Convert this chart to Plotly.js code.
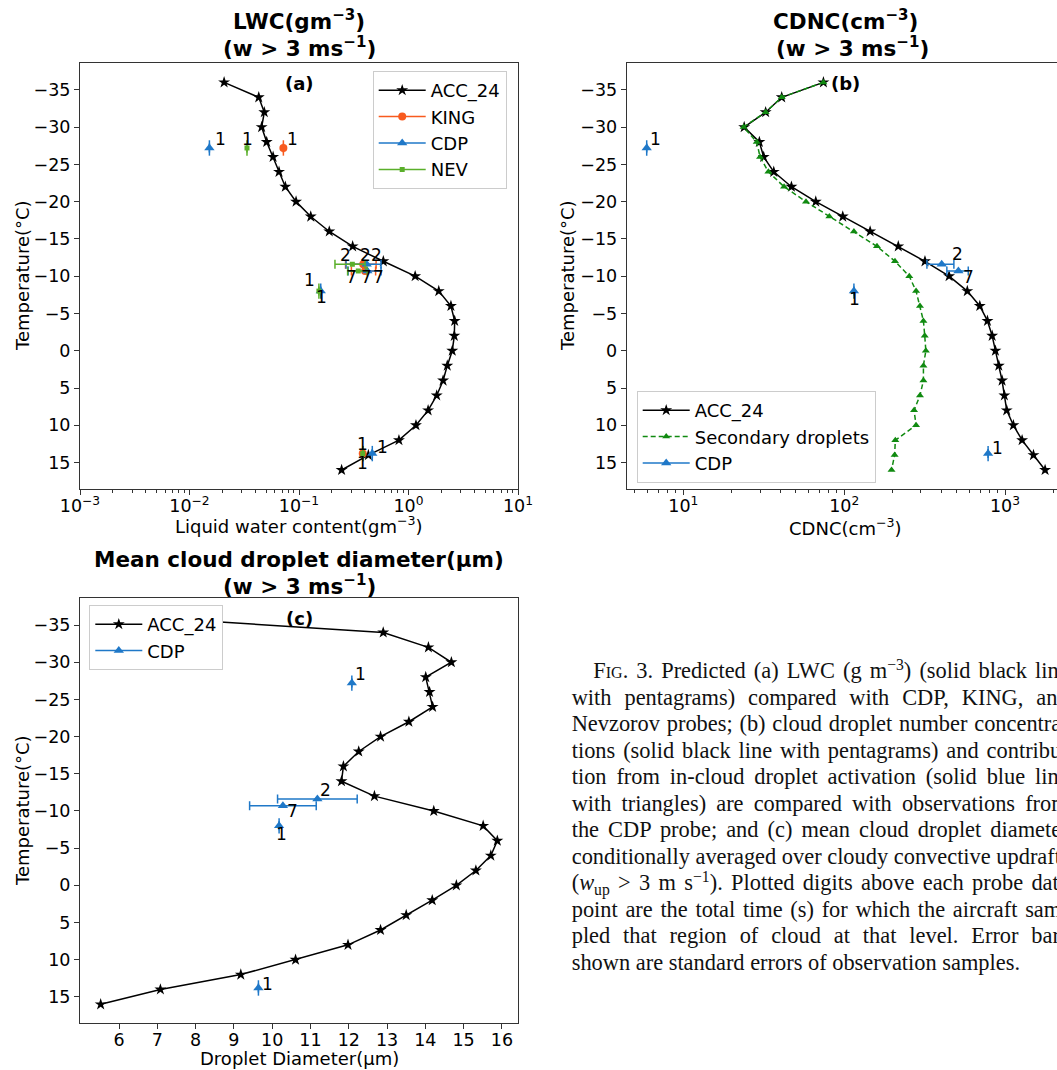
<!DOCTYPE html>
<html><head><meta charset="utf-8">
<script src="https://cdn.plot.ly/plotly-3.0.1.min.js"></script>
<style>
html,body{margin:0;padding:0;overflow:hidden;background:#fff;width:1057px;height:1070px;}
#chart{position:absolute;left:0;top:0;width:1075px;height:1070px;}
.cap{position:absolute;left:571.7px;width:497px;font-family:"Liberation Serif","Times New Roman",serif;font-size:22.4px;line-height:26.5px;text-align:justify;text-align-last:justify;white-space:nowrap;color:#111;}
.cap.last{text-align:left;text-align-last:left;}
.cap.first{text-indent:21.6px;}
.cap sup,.cap sub{line-height:0;font-size:70%;}
.sc{font-variant:small-caps;}
</style></head>
<body>
<div id="chart"></div>
<div id="caption"></div>
<script>
// ---------------- data ----------------
const temps = [-36,-34,-32,-30,-28,-26,-24,-22,-20,-18,-16,-14,-12,-10,-8,-6,-4,-2,0,2,4,6,8,10,12,14,16];
const lwcModel = [0.0207,0.0429,0.0482,0.0456,0.0507,0.058,0.0657,0.075,0.094,0.128,0.189,0.309,0.589,1.15,1.89,2.44,2.64,2.62,2.51,2.26,2.07,1.81,1.51,1.17,0.818,0.430,0.245];
const cdncModel = [74.3,40.9,32.5,23.9,29.7,31.6,36.5,47.0,66.6,98.0,145,217,318,449,583,697,778,832,872,915,959,991,1025,1127,1277,1503,1775];
const cdncSecondary = [74.3,40.9,32.5,23.7,28.6,30.0,33.8,42.3,57.9,80.9,115,160,207,254,280,296,311,317,322,311,311,296,272,280,208,206,197];
const diamModel = [6.9,12.90,14.08,14.68,14.01,14.11,14.19,13.57,12.83,12.26,11.86,11.81,12.67,14.22,15.51,15.88,15.71,15.32,14.81,14.18,13.50,12.83,11.98,10.61,9.18,7.08,5.52];

// observations (temperature, value, standard error, sampling time in s)
const cdpTemp  = [-27.2,-11.6,-10.7,-8.0,13.8];
const cdpTime  = [1,2,7,1,1];
const cdpLwc   = [0.0152,0.415,0.421,0.158,0.467];
const cdpLwcErr= [0,0.146,0.14,0,0];
const cdpCdnc  = [5.92,404,513,115,785];
const cdpCdncErr=[0,77,78,0,0];
const cdpDiam  = [12.08,11.18,10.28,10.18,9.64];
const cdpDiamErr=[0,1.04,0.87,0,0];

const kingTemp = [-27.2,-11.6,-10.7,13.8];
const kingTime = [1,2,7,1];
const kingLwc  = [0.072,0.386,0.401,0.382];
const kingLwcErr=[0,0.12,0.10,0];

const nevTemp  = [-27.2,-11.6,-10.7,-8.0,13.8];
const nevTime  = [1,2,7,1,1];
const nevLwc   = [0.0335,0.307,0.348,0.152,0.382];
const nevLwcErr= [0,0.094,0.07,0,0];

const tempTicks = [-35,-30,-25,-20,-15,-10,-5,0,5,10,15];
const lwcTicks = [0.001,0.01,0.1,1,10];
const lwcTickText = ['10<sup>−3</sup>','10<sup>−2</sup>','10<sup>−1</sup>','10<sup>0</sup>','10<sup>1</sup>'];
const cdncTicks = [10,100,1000];
const cdncTickText = ['10<sup>1</sup>','10<sup>2</sup>','10<sup>3</sup>'];
const diamTicks = [6,7,8,9,10,11,12,13,14,15,16];

// ---------------- styles ----------------
const W = 1075, H = 1070;
const FONT = 'DejaVu Sans';
const cCDP = '#1f78c8', cKING = '#f85a1e', cNEV = '#5aaf2a', cSEC = '#108a10';
const px = v => v / W, py = v => 1 - v / H;

// label offsets (screen px) for sample-time digits
const offA_cdp  = [[11,-9],[10,-9],[11,6.5],[1,6],[10,-7]];
const offA_king = [[9,-9],[2.5,-9],[1.7,6.5],[0,-10]];
const offA_nev  = [[1,-9],[-6.6,-9],[-6.6,6.5],[-9,-11],[0,9]];
const offB_cdp  = [[9,-9],[16,-10],[10,6],[1,8],[9,-6]];
const offC_cdp  = [[9,-9],[8,-9],[10,5],[2,8],[9,-4]];

function modelTrace(x, xa, ya, leg, show){
  return {x:x, y:temps, xaxis:xa, yaxis:ya, type:'scatter', mode:'lines+markers', name:'ACC_24',
    line:{color:'#000', width:1.5}, marker:{symbol:'star', size:9, color:'#000'},
    legend:leg, showlegend:show, legendgroup:leg+'m', hoverinfo:'skip'};
}
// zero-length error bars in the source only show their caps (a short vertical tick)
function capTrace(x, err, t, xa, ya, color){
  const keep = err.map(e => e === 0);
  return {x:x.filter((v,i)=>keep[i]), y:t.filter((v,i)=>keep[i]), xaxis:xa, yaxis:ya, type:'scatter', mode:'markers', showlegend:false,
    marker:{symbol:'line-ns-open', size:11, color:color, line:{color:color, width:1.5}}, hoverinfo:'skip'};
}
function obsTrace(x, err, t, xa, ya, color, symbol, size){
  return {x:x, y:t, xaxis:xa, yaxis:ya, type:'scatter', mode:'markers', showlegend:false,
    marker:{symbol:symbol, size:size, color:color},
    error_x:{type:'data', array:err, visible:true, color:color, thickness:1.5, width:4.5},
    hoverinfo:'skip'};
}
function legendEntry(name, color, symbol, size, leg){
  return {x:[null], y:[null], type:'scatter', mode:'lines+markers', name:name,
    line:{color:color, width:1.5}, marker:{symbol:symbol, size:size, color:color},
    legend:leg, legendgroup:leg+name, xaxis:'x', yaxis:'y', hoverinfo:'skip'};
}

const data = [
  modelTrace(lwcModel,'x','y','legend',true),
  capTrace(kingLwc, kingLwcErr, kingTemp,'x','y',cKING),
  obsTrace(kingLwc, kingLwcErr, kingTemp,'x','y',cKING,'circle',8),
  capTrace(cdpLwc, cdpLwcErr, cdpTemp,'x','y',cCDP),
  obsTrace(cdpLwc, cdpLwcErr, cdpTemp,'x','y',cCDP,'triangle-up',9),
  capTrace(nevLwc, nevLwcErr, nevTemp,'x','y',cNEV),
  obsTrace(nevLwc, nevLwcErr, nevTemp,'x','y',cNEV,'square',5),
  legendEntry('KING',cKING,'circle',8,'legend'),
  legendEntry('CDP',cCDP,'triangle-up',9,'legend'),
  legendEntry('NEV',cNEV,'square',5,'legend'),

  modelTrace(cdncModel,'x2','y2','legend2',true),
  {x:cdncSecondary, y:temps, xaxis:'x2', yaxis:'y2', type:'scatter', mode:'lines+markers', name:'Secondary droplets',
   line:{color:cSEC, width:1.5, dash:'5px,3px'}, marker:{symbol:'triangle-up', size:7, color:cSEC},
   legend:'legend2', legendgroup:'l2s', hoverinfo:'skip'},
  capTrace(cdpCdnc, cdpCdncErr, cdpTemp,'x2','y2',cCDP),
  obsTrace(cdpCdnc, cdpCdncErr, cdpTemp,'x2','y2',cCDP,'triangle-up',9),
  legendEntry('CDP',cCDP,'triangle-up',9,'legend2'),

  modelTrace(diamModel,'x3','y3','legend3',true),
  capTrace(cdpDiam, cdpDiamErr, cdpTemp,'x3','y3',cCDP),
  obsTrace(cdpDiam, cdpDiamErr, cdpTemp,'x3','y3',cCDP,'triangle-up',9),
  legendEntry('CDP',cCDP,'triangle-up',9,'legend3'),
];

// ---------------- annotations ----------------
const ann = [];
function digits(vals, t, n, offs, xa, ya, isLog){
  for (let i = 0; i < vals.length; i++){
    ann.push({xref:xa, yref:ya, x: isLog ? Math.log10(vals[i]) : vals[i], y:t[i], text:String(n[i]),
      showarrow:false, xshift:offs[i][0], yshift:-offs[i][1], font:{family:FONT, size:17, color:'#000'}});
  }
}
digits(cdpLwc, cdpTemp, cdpTime, offA_cdp, 'x','y',true);
digits(kingLwc, kingTemp, kingTime, offA_king, 'x','y',true);
digits(nevLwc, nevTemp, nevTime, offA_nev, 'x','y',true);
digits(cdpCdnc, cdpTemp, cdpTime, offB_cdp, 'x2','y2',true);
digits(cdpDiam, cdpTemp, cdpTime, offC_cdp, 'x3','y3',false);

[['x domain','y','(a)'],['x2 domain','y2','(b)'],['x3 domain','y3','(c)']].forEach(a=>{
  ann.push({xref:a[0], yref:a[1], x:0.5, y:-35.85, text:'<b>'+a[2]+'</b>', showarrow:false, font:{family:FONT,size:18,color:'#000'}});
});
const tfont = {family:FONT, size:21.5, color:'#000'};
function title(x, y, text){ ann.push({xref:'paper', yref:'paper', x:px(x), y:py(y), text:text, showarrow:false, font:tfont, xanchor:'center', yanchor:'middle'}); }
title(299, 20, '<b>LWC(gm<sup>−3</sup>)</b>');
title(299, 47, '<b>(w &gt; 3 ms<sup>−1</sup>)</b>');
title(845, 20, '<b>CDNC(cm<sup>−3</sup>)</b>');
title(852, 47, '<b>(w &gt; 3 ms<sup>−1</sup>)</b>');
title(299, 559, '<b>Mean cloud droplet diameter(μm)</b>');
title(299, 585, '<b>(w &gt; 3 ms<sup>−1</sup>)</b>');

const lfont = {family:FONT, size:18, color:'#000'};
function atitle(x, y, text, rot){ ann.push({xref:'paper', yref:'paper', x:px(x), y:py(y), text:text, showarrow:false, font:lfont, textangle:rot||0, xanchor:'center', yanchor:'middle'}); }
atitle(299, 525, 'Liquid water content(gm<sup>−3</sup>)');
atitle(845.8, 527, 'CDNC(cm<sup>−3</sup>)');
atitle(299, 1058, 'Droplet Diameter(μm)');
atitle(22, 276, 'Temperature(°C)', -90);
atitle(567, 276, 'Temperature(°C)', -90);
atitle(22, 811, 'Temperature(°C)', -90);

// ---------------- axes ----------------
const tickfont = {family:FONT, size:17.5, color:'#000'};
function axBase(){ return {showline:true, mirror:true, linecolor:'#333', linewidth:1, ticks:'outside', ticklen:5, tickwidth:1, tickcolor:'#333',
  showgrid:false, zeroline:false, tickfont:tickfont, fixedrange:true}; }
function yax(dom, anchor){ return Object.assign(axBase(), {domain:dom, anchor:anchor, range:[18.55,-38.6], tickmode:'array', tickvals:tempTicks}); }
const minorLog = {dtick:'D1', ticks:'outside', ticklen:3, tickcolor:'#333', showgrid:false};
const legBase = {xanchor:'left', yanchor:'top', bgcolor:'rgba(255,255,255,0.95)', bordercolor:'#ccc', borderwidth:1, font:lfont, traceorder:'grouped', tracegroupgap:0, itemwidth:47};

const layout = {
  width:W, height:H, margin:{l:0,r:0,t:0,b:0}, paper_bgcolor:'#fff', plot_bgcolor:'#fff',
  font:{family:FONT, size:17, color:'#000'}, showlegend:true,
  xaxis: Object.assign(axBase(), {domain:[px(80),px(518)], anchor:'y', type:'log', range:[-3,1], tickmode:'array', tickvals:lwcTicks, ticktext:lwcTickText,
    ticklabelstandoff:-4, minor:minorLog}),
  yaxis: yax([py(489),py(63)],'x'),
  xaxis2: Object.assign(axBase(), {domain:[px(626.7),px(1065)], anchor:'y2', type:'log', range:[0.648,3.373], tickmode:'array', tickvals:cdncTicks, ticktext:cdncTickText,
    ticklabelstandoff:-4, minor:minorLog}),
  yaxis2: yax([py(489),py(63)],'x2'),
  xaxis3: Object.assign(axBase(), {domain:[px(80),px(518)], anchor:'y3', range:[4.98,16.42], tickmode:'array', tickvals:diamTicks, ticklabelstandoff:-4}),
  yaxis3: yax([py(1023.3),py(598.3)],'x3'),
  legend:  Object.assign({}, legBase, {x:px(372.7), y:py(71)}),
  legend2: Object.assign({}, legBase, {x:px(636.7), y:py(391)}),
  legend3: Object.assign({}, legBase, {x:px(89.3), y:py(605), bgcolor:'#fff'}),
  annotations: ann
};

Plotly.newPlot('chart', data, layout, {displayModeBar:false, responsive:false, staticPlot:true});

// ---------------- caption ----------------
const captionLines = [
  '<span class="sc">Fig</span>. 3. Predicted (a) LWC (g m<sup>−3</sup>) (solid black line',
  'with pentagrams) compared with CDP, KING, and',
  'Nevzorov probes; (b) cloud droplet number concentra-',
  'tions (solid black line with pentagrams) and contribu-',
  'tion from in-cloud droplet activation (solid blue line',
  'with triangles) are compared with observations from',
  'the CDP probe; and (c) mean cloud droplet diameter',
  'conditionally averaged over cloudy convective updrafts',
  '(<i>w</i><sub>up</sub> &gt; 3 m s<sup>−1</sup>). Plotted digits above each probe data',
  'point are the total time (s) for which the aircraft sam-',
  'pled that region of cloud at that level. Error bars',
  'shown are standard errors of observation samples.'
];
const cap = document.getElementById('caption');
captionLines.forEach((t,i)=>{
  const d = document.createElement('div');
  d.className = 'cap' + (i===0?' first':'') + (i===captionLines.length-1?' last':'');
  d.style.top = (671.7 + 26.5*i - 13.25) + 'px';
  d.innerHTML = t;
  cap.appendChild(d);
});
</script>
</body></html>
